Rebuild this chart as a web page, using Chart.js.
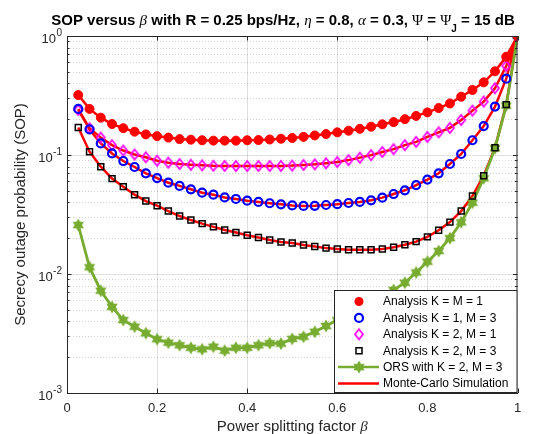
<!DOCTYPE html>
<html>
<head>
<meta charset="utf-8">
<script src="https://cdn.jsdelivr.net/npm/chart.js@4/dist/chart.umd.min.js"></script>
<style>
  html, body { margin: 0; padding: 0; background: #fff; }
</style>
</head>
<body>
<canvas id="graph" width="541" height="434"></canvas>
<script>
// power splitting factor (x) and SOP values
var beta = [0.025, 0.05, 0.075, 0.1, 0.125, 0.15, 0.175, 0.2, 0.225, 0.25,
  0.275, 0.3, 0.325, 0.35, 0.375, 0.4, 0.425, 0.45, 0.475, 0.5,
  0.525, 0.55, 0.575, 0.6, 0.625, 0.65, 0.675, 0.7, 0.725, 0.75,
  0.775, 0.8, 0.825, 0.85, 0.875, 0.9, 0.925, 0.95, 0.975, 1];

var sopK1M1 = [0.319, 0.244, 0.206, 0.182, 0.168, 0.157, 0.149, 0.144, 0.140, 0.136,
  0.1345, 0.133, 0.132, 0.132, 0.132, 0.133, 0.1335, 0.135, 0.137, 0.139,
  0.142, 0.146, 0.150, 0.155, 0.160, 0.166, 0.173, 0.181, 0.189, 0.200,
  0.213, 0.228, 0.248, 0.271, 0.309, 0.352, 0.408, 0.505, 0.670, 1.0];

var sopK1M3 = [0.244, 0.164, 0.125, 0.103, 0.089, 0.0793, 0.0702, 0.064, 0.0585, 0.055,
  0.0515, 0.0482, 0.0464, 0.0440, 0.0427, 0.0413, 0.0403, 0.0393, 0.0385, 0.0377,
  0.0373, 0.0374, 0.0380, 0.0386, 0.0395, 0.0403, 0.0416, 0.0438, 0.047, 0.0505,
  0.0559, 0.0621, 0.0702, 0.084, 0.102, 0.133, 0.175, 0.255, 0.438, 1.0];

var sopK2M1 = [0.239, 0.168, 0.140, 0.121, 0.109, 0.101, 0.0957, 0.0896, 0.0862, 0.084,
  0.0828, 0.0819, 0.0812, 0.0809, 0.0808, 0.0808, 0.0808, 0.0808, 0.0810, 0.0815,
  0.0825, 0.0835, 0.0852, 0.0873, 0.0906, 0.095, 0.0998, 0.106, 0.112, 0.121,
  0.129, 0.142, 0.155, 0.169, 0.197, 0.236, 0.281, 0.364, 0.56, 1.0];

var sopK2M3 = [0.170, 0.1066, 0.0798, 0.0633, 0.0542, 0.0464, 0.041, 0.0375, 0.0338, 0.0307,
  0.0284, 0.0265, 0.0249, 0.0234, 0.0223, 0.0212, 0.0203, 0.0193, 0.0186, 0.0182,
  0.0175, 0.017, 0.0165, 0.0162, 0.016, 0.016, 0.016, 0.0162, 0.0168, 0.0176,
  0.0187, 0.0205, 0.0233, 0.0273, 0.0338, 0.0452, 0.067, 0.115, 0.265, 1.0];

var sopOrsK2M3 = [0.0258, 0.0114, 0.00724, 0.00529, 0.0041, 0.00361, 0.00318, 0.00283, 0.00265, 0.00252,
  0.0024, 0.00233, 0.00245, 0.00227, 0.0024, 0.0024, 0.00252, 0.00262, 0.0026, 0.00285,
  0.00297, 0.00327, 0.00366, 0.0041, 0.0046, 0.0052, 0.0058, 0.0065, 0.00734, 0.00845,
  0.0103, 0.0127, 0.0156, 0.020, 0.0272, 0.0397, 0.0637, 0.114, 0.26, 1.0];

var xTicks = [0, 0.2, 0.4, 0.6, 0.8, 1];
var xTickLabels = ["0", "0.2", "0.4", "0.6", "0.8", "1"];
var yDecades = [0.001, 0.01, 0.1, 1];
var yExponents = ["-3", "-2", "-1", "0"];

var legendLabels = ["Analysis K = M = 1", "Analysis K = 1, M = 3", "Analysis K = 2, M = 1",
  "Analysis K = 2, M = 3", "ORS with K = 2, M = 3", "Monte-Carlo Simulation"];

var SANS = '"Liberation Sans", Arial, Helvetica, sans-serif';
var SERIF = '"Liberation Serif", "Times New Roman", serif';
var AXIS = "#262626";
var GREEN = "rgb(119, 172, 48)";

function pts(arr) {
  return beta.map(function (b, i) { return { x: b, y: arr[i] }; });
}

// filled hexagram marker like MATLAB's 'h'
function makeStar(size, color) {
  var c = document.createElement("canvas");
  c.width = size;
  c.height = size;
  var g = c.getContext("2d");
  var r = size / 2 - 0.5;
  g.beginPath();
  for (var k = 0; k < 12; k++) {
    var a = -Math.PI / 2 + k * Math.PI / 6;
    var rr = k % 2 === 0 ? r : r * 0.58;
    var px = size / 2 + rr * Math.cos(a), py = size / 2 + rr * Math.sin(a);
    if (k === 0) g.moveTo(px, py); else g.lineTo(px, py);
  }
  g.closePath();
  g.fillStyle = color;
  g.fill();
  return c;
}

// open diamond, a bit narrower than tall (MATLAB 'd')
function makeDiamond(w, h, color) {
  var c = document.createElement("canvas");
  c.width = w + 4;
  c.height = h + 4;
  var g = c.getContext("2d");
  var cx = c.width / 2, cy = c.height / 2;
  g.beginPath();
  g.moveTo(cx, cy - h / 2); g.lineTo(cx + w / 2, cy); g.lineTo(cx, cy + h / 2); g.lineTo(cx - w / 2, cy);
  g.closePath();
  g.lineWidth = 1.8;
  g.strokeStyle = color;
  g.stroke();
  return c;
}

var starImg = makeStar(14, GREEN);
var diamondImg = makeDiamond(8, 10, "magenta");

function isDecade(v) {
  var l = Math.log10(v);
  return Math.abs(l - Math.round(l)) < 1e-9;
}

function richText(ctx, parts, x, y) {
  var total = 0;
  parts.forEach(function (p) { ctx.font = p[1]; total += ctx.measureText(p[0]).width; });
  var cx = x - total / 2;
  ctx.textAlign = "left";
  ctx.textBaseline = "alphabetic";
  parts.forEach(function (p) {
    ctx.font = p[1];
    ctx.fillText(p[0], cx, y + (p[2] || 0));
    cx += ctx.measureText(p[0]).width;
  });
}

function drawMarker(ctx, kind, x, y) {
  ctx.save();
  ctx.beginPath();
  if (kind === 0) {
    ctx.arc(x, y, 4.5, 0, 2 * Math.PI);
    ctx.fillStyle = "red";
    ctx.fill();
  } else if (kind === 1) {
    ctx.arc(x, y, 4, 0, 2 * Math.PI);
    ctx.lineWidth = 2.2;
    ctx.strokeStyle = "blue";
    ctx.stroke();
  } else if (kind === 2) {
    ctx.drawImage(diamondImg, x - diamondImg.width / 2, y - diamondImg.height / 2);
  } else if (kind === 3) {
    ctx.rect(x - 3, y - 3, 6, 6);
    ctx.lineWidth = 1.5;
    ctx.strokeStyle = "black";
    ctx.stroke();
  }
  ctx.restore();
}

// grid lines under the data: solid major, dotted minor
var gridPlugin = {
  id: "mgrid",
  beforeDatasetsDraw: function (chart) {
    var ctx = chart.ctx;
    var a = chart.chartArea;
    var xs = chart.scales.x, ys = chart.scales.y;
    ctx.save();
    ctx.lineWidth = 1;
    ctx.strokeStyle = "rgba(38,38,38,0.15)";
    ctx.beginPath();
    xTicks.forEach(function (t) {
      if (t <= 0 || t >= 1) return;
      var px = Math.round(xs.getPixelForValue(t)) + 0.5;
      ctx.moveTo(px, a.top); ctx.lineTo(px, a.bottom);
    });
    yDecades.forEach(function (d) {
      if (d <= 0.001 || d >= 1) return;
      var py = Math.round(ys.getPixelForValue(d)) + 0.5;
      ctx.moveTo(a.left, py); ctx.lineTo(a.right, py);
    });
    ctx.stroke();
    ctx.strokeStyle = "rgba(38,38,38,0.2)";
    ctx.setLineDash([1, 2]);
    ctx.beginPath();
    ys.ticks.forEach(function (t) {
      if (isDecade(t.value)) return;
      var py = Math.round(ys.getPixelForValue(t.value)) + 0.5;
      ctx.moveTo(a.left, py); ctx.lineTo(a.right, py);
    });
    ctx.stroke();
    ctx.restore();
  }
};

var decorPlugin = {
  id: "decor",
  afterDraw: function (chart) {
    var ctx = chart.ctx;
    var a = chart.chartArea;
    var xs = chart.scales.x, ys = chart.scales.y;
    ctx.save();

    // box top / right
    ctx.strokeStyle = AXIS;
    ctx.lineWidth = 1;
    ctx.beginPath();
    ctx.moveTo(a.left, a.top + 0.5); ctx.lineTo(a.right, a.top + 0.5);
    ctx.moveTo(a.right - 0.5, a.top); ctx.lineTo(a.right - 0.5, a.bottom);
    ctx.stroke();

    // inward tick marks
    ctx.beginPath();
    xTicks.forEach(function (t) {
      var px = Math.round(xs.getPixelForValue(t)) + 0.5;
      ctx.moveTo(px, a.bottom); ctx.lineTo(px, a.bottom - 4.5);
      ctx.moveTo(px, a.top); ctx.lineTo(px, a.top + 4.5);
    });
    ys.ticks.forEach(function (t) {
      var py = Math.round(ys.getPixelForValue(t.value)) + 0.5;
      var len = isDecade(t.value) ? 4.5 : 2.5;
      ctx.moveTo(a.left, py); ctx.lineTo(a.left + len, py);
      ctx.moveTo(a.right, py); ctx.lineTo(a.right - len, py);
    });
    ctx.stroke();

    // y tick labels 10^n
    ctx.fillStyle = AXIS;
    ctx.textBaseline = "middle";
    yDecades.forEach(function (v, i) {
      var py = ys.getPixelForValue(v);
      ctx.font = "10px " + SANS;
      var ew = ctx.measureText(yExponents[i]).width;
      ctx.textAlign = "left";
      var right = a.left - 5;
      ctx.fillText(yExponents[i], right - ew, py - 3);
      ctx.font = "13px " + SANS;
      ctx.textAlign = "right";
      ctx.fillText("10", right - ew - 0.5, py + 3);
    });

    // x axis title
    ctx.fillStyle = AXIS;
    richText(ctx, [
      ["Power splitting factor ", "15px " + SANS],
      ["\u03b2", "italic 15px " + SERIF]
    ], (a.left + a.right) / 2, 431);

    // chart title
    ctx.fillStyle = "#000";
    var B = "bold 15px " + SANS;
    var G = "italic 15px " + SERIF;
    var U = "15px " + SERIF;
    richText(ctx, [
      ["SOP versus ", B], ["\u03b2", G], [" with R = 0.25 bps/Hz, ", B],
      ["\u03b7", G], [" = 0.8, ", B], ["\u03b1", G], [" = 0.3, ", B],
      ["\u03a8", U], [" = ", B], ["\u03a8", U], ["J", "bold 10px " + SANS, 7], [" = 15 dB", B]
    ], 283, 25);

    // legend box, bottom right inside the axes
    var lx = 334, ly = 290, lw = a.right - lx, lh = a.bottom - ly;
    ctx.fillStyle = "#fff";
    ctx.fillRect(lx, ly, lw, lh);
    ctx.strokeStyle = AXIS;
    ctx.lineWidth = 1;
    ctx.strokeRect(lx + 0.5, ly + 0.5, lw - 1, lh - 1);
    var mx = 359, tx = 383;
    legendLabels.forEach(function (lab, i) {
      var ry = 301.5 + i * 16.4;
      if (i < 4) {
        drawMarker(ctx, i, mx, ry);
      } else {
        ctx.beginPath();
        ctx.moveTo(338, ry); ctx.lineTo(379, ry);
        ctx.lineWidth = 2.5;
        ctx.strokeStyle = i === 4 ? GREEN : "red";
        ctx.stroke();
        if (i === 4) ctx.drawImage(starImg, mx - starImg.width / 2, ry - starImg.height / 2);
      }
      ctx.fillStyle = "#000";
      ctx.font = "12px " + SANS;
      ctx.textAlign = "left";
      ctx.textBaseline = "middle";
      ctx.fillText(lab, tx, ry + 0.5);
    });
    ctx.restore();
  }
};

function mcLine(arr) {
  return {
    label: "Monte-Carlo Simulation",
    data: pts(arr),
    borderColor: "red",
    backgroundColor: "red",
    borderWidth: 2.5,
    pointRadius: 0,
    tension: 0
  };
}

var datasets = [
  {
    label: legendLabels[0], data: pts(sopK1M1), showLine: false,
    pointStyle: "circle", pointRadius: 4.5, pointBackgroundColor: "red", pointBorderColor: "red", pointBorderWidth: 1
  },
  {
    label: legendLabels[1], data: pts(sopK1M3), showLine: false,
    pointStyle: "circle", pointRadius: 4, pointBackgroundColor: "rgba(0,0,0,0)", pointBorderColor: "blue", pointBorderWidth: 2.2
  },
  {
    label: legendLabels[2], data: pts(sopK2M1), showLine: false,
    pointStyle: diamondImg, pointRadius: 5
  },
  {
    label: legendLabels[3], data: pts(sopK2M3), showLine: false,
    pointStyle: "rect", pointRadius: 4.2, pointBackgroundColor: "rgba(0,0,0,0)", pointBorderColor: "black", pointBorderWidth: 1.5
  },
  {
    label: legendLabels[4], data: pts(sopOrsK2M3), borderColor: GREEN, backgroundColor: GREEN,
    borderWidth: 2.8, tension: 0, pointStyle: starImg, pointRadius: 6
  },
  mcLine(sopK1M1),
  mcLine(sopK1M3),
  mcLine(sopK2M1),
  mcLine(sopK2M3)
];

var ctx = document.getElementById("graph").getContext("2d");

var config = {
  type: "line",
  data: { datasets: datasets },
  options: {
    responsive: false,
    animation: false,
    layout: { padding: { left: 0, right: 23.5, top: 36, bottom: 0 } },
    plugins: {
      legend: { display: false },
      title: { display: false },
      tooltip: { enabled: false }
    },
    scales: {
      x: {
        type: "linear",
        min: 0,
        max: 1,
        afterBuildTicks: function (scale) {
          scale.ticks = xTicks.map(function (v) { return { value: v }; });
        },
        afterFit: function (scale) { scale.height = 41; },
        ticks: {
          color: AXIS,
          font: { family: SANS, size: 13 },
          padding: 8,
          maxRotation: 0,
          callback: function (value, index) { return xTickLabels[index]; }
        },
        grid: { display: false, drawTicks: false },
        border: { color: AXIS, width: 1 }
      },
      y: {
        type: "logarithmic",
        min: 0.001,
        max: 1,
        afterBuildTicks: function (scale) {
          var t = [];
          yDecades.forEach(function (d, i) {
            t.push({ value: d, major: true });
            if (i < yDecades.length - 1) {
              for (var m = 2; m <= 9; m++) t.push({ value: Math.round(d * m * 1e6) / 1e6, major: false });
            }
          });
          scale.ticks = t;
        },
        afterFit: function (scale) { scale.width = 67; },
        ticks: { display: false },
        title: {
          display: true,
          text: "Secrecy outage probability (SOP)",
          color: AXIS,
          font: { family: SANS, size: 15 },
          padding: { top: 12, bottom: 0 }
        },
        grid: { display: false, drawTicks: false },
        border: { color: AXIS, width: 1 }
      }
    }
  },
  plugins: [gridPlugin, decorPlugin]
};

var graph = new Chart(ctx, config);
</script>
</body>
</html>
